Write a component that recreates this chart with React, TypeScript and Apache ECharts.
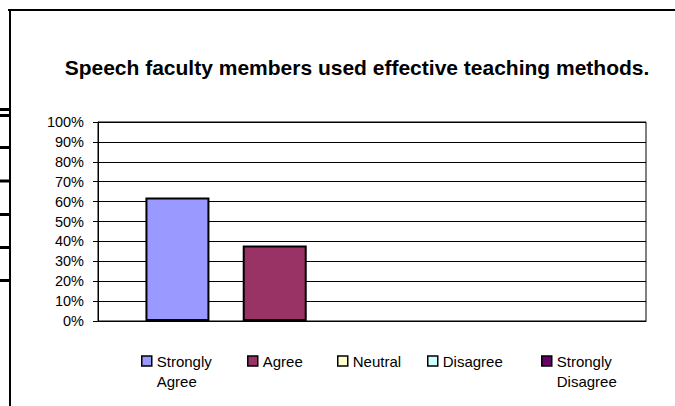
import React, { useEffect, useRef } from "react";
import * as echarts from "echarts";

const TITLE = "Speech faculty members used effective teaching methods.";
const seriesNames = ["Strongly Agree", "Agree", "Neutral", "Disagree", "Strongly Disagree"];
const legendLabels = [" \nStrongly\nAgree", "Agree", "Neutral", "Disagree", " \nStrongly\nDisagree"];
const seriesValues = [62, 38, 0, 0, 0];
const seriesColors = ["#9999FF", "#993366", "#FFFFCC", "#CCFFFF", "#660066"];
const categories = [""];
const FONT = "'Liberation Sans', Arial, sans-serif";

export default function App() {
  const ref = useRef<HTMLDivElement>(null);
  useEffect(() => {
    if (!ref.current) return;
    const chart = echarts.init(ref.current, null, { renderer: "svg" });
    const legendLefts = [141, 247, 337, 427, 541];
    const legends = seriesNames.map((name, i) => {
      const multi = legendLabels[i].includes("\n");
      return {
        data: [name],
        left: legendLefts[i],
        top: multi ? 331 : 351,
        padding: 0,
        itemWidth: 10,
        itemHeight: 10,
        itemGap: 0,
        icon: "rect",
        selectedMode: false,
        formatter: () => legendLabels[i],
        textStyle: { fontFamily: FONT, fontSize: 15, color: "#000", lineHeight: 20 },
        itemStyle: { borderColor: "#000", borderWidth: 1.5 },
      };
    });
    const leftMarks = [108, 114, 146, 179.5, 213, 246, 279];
    chart.setOption({
      animation: false,
      backgroundColor: "#fff",
      title: {
        text: TITLE,
        left: 352,
        textAlign: "center",
        top: 52,
        textStyle: { fontFamily: FONT, fontSize: 21, fontWeight: "bold", color: "#000" },
      },
      grid: {
        left: 98,
        right: 29,
        top: 122,
        bottom: 85,
        show: true,
        borderColor: "#000",
        borderWidth: 1,
      },
      legend: legends,
      xAxis: {
        type: "category",
        data: categories,
        axisLine: { lineStyle: { color: "#000", width: 1 } },
        axisTick: { show: false },
        axisLabel: { show: false },
      },
      yAxis: {
        type: "value",
        min: 0,
        max: 100,
        interval: 10,
        axisLine: { show: true, lineStyle: { color: "#000", width: 1 } },
        axisTick: { show: true, length: 5, lineStyle: { color: "#000" } },
        axisLabel: {
          formatter: "{value}%",
          fontFamily: FONT,
          fontSize: 14.5,
          color: "#000",
          margin: 14,
        },
        splitLine: { show: true, lineStyle: { color: "#000", width: 1 } },
      },
      series: seriesNames.map((name, i) => ({
        name,
        type: "bar",
        data: [
          {
            value: seriesValues[i],
            itemStyle: { borderWidth: seriesValues[i] > 0 ? 2 : 0 },
          },
        ],
        barWidth: 64,
        barGap: "52%",
        itemStyle: { color: seriesColors[i], borderColor: "#000", borderWidth: 2 },
      })),
      graphic: [
        { type: "line", shape: { x1: 8, y1: 10, x2: 675, y2: 10 }, style: { stroke: "#000", lineWidth: 2 } },
        { type: "line", shape: { x1: 10, y1: 10, x2: 10, y2: 406 }, style: { stroke: "#000", lineWidth: 2 } },
        ...leftMarks.map((y) => ({
          type: "rect",
          shape: { x: 0, y, width: 10, height: 3 },
          style: { fill: "#000" },
        })),
      ],
    });
    return () => chart.dispose();
  }, []);
  return (
    <div
      ref={ref}
      style={{ position: "absolute", left: 0, top: 0, width: 675, height: 406 }}
    />
  );
}
